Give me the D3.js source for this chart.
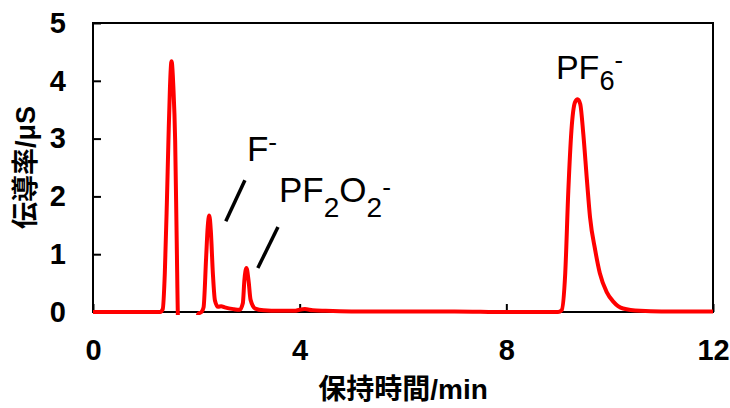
<!DOCTYPE html>
<html>
<head>
<meta charset="utf-8">
<script src="https://cdn.jsdelivr.net/npm/d3@7"></script>
<style>
  body { margin: 0; background: #fff; }
  text { font-family: "Liberation Sans", Arial, "Noto Sans CJK JP", sans-serif; }
</style>
</head>
<body>
<svg id="chart" width="730" height="408"></svg>
<script>
// retention time (min) and conductivity (uS)
const times = [
  0, 1.30, 1.35, 1.39, 1.43, 1.46, 1.49, 1.52, 1.555, 1.59, 1.62, 1.65, 1.70,
  1.95, 2.00, 2.04, 2.10, 2.14, 2.19, 2.22, 2.25, 2.28, 2.32, 2.36, 2.42, 2.48,
  2.55, 2.72, 2.84, 2.90, 2.93, 2.97, 3.01, 3.05, 3.14, 3.30, 3.60, 3.90, 4.00,
  4.10, 4.25, 4.50, 5.0, 6.0, 7.0, 8.0, 9.0, 9.07, 9.14, 9.20, 9.26, 9.33, 9.38,
  9.43, 9.49, 9.56, 9.62, 9.72, 9.81, 9.94, 10.07, 10.26, 10.59, 11.0, 12.0
]
const signal = [
  0, 0, 0.05, 0.67, 1.9, 2.97, 3.9, 4.34, 3.9, 2.97, 1.24, -0.3, -0.6,
  -0.6, -0.2, -0.03, 0.0, 0.08, 0.95, 1.47, 1.67, 1.41, 0.67, 0.2, 0.09, 0.1,
  0.08, 0.05, 0.04, 0.15, 0.55, 0.76, 0.55, 0.21, 0.06, 0.03, 0.02, 0.02, 0.04,
  0.05, 0.03, 0.02, 0.01, 0.01, 0.01, 0.0, 0.0, 0.03, 0.67, 2.10, 3.14, 3.63, 3.68,
  3.60, 3.08, 2.28, 1.64, 1.07, 0.67, 0.35, 0.18, 0.06, 0.02, 0.01, 0.01
]

const xTicks = [0, 4, 8, 12]
const yTicks = [0, 1, 2, 3, 4, 5]
const xTitle = "保持時間/min"
const yTitle = "伝導率/μS"

// peak labels: [text, kind] parts at (t, v); leader line from (t1,v1) to (t2,v2)
const labels = [
  { parts: [["F", ""], ["-", "sup"]], t: 2.98, v: 2.61, size: 35, sub: 15, sup: -10 },
  { parts: [["PF", ""], ["2", "sub"], ["O", ""], ["2", "sub"], ["-", "sup"]], t: 3.60, v: 1.90, size: 35, sub: 15, sup: -6 },
  { parts: [["PF", ""], ["6", "sub"], ["-", "sup"]], t: 8.96, v: 4.03, size: 34, sub: 11, sup: -10 }
]
const leaders = [
  { t1: 2.94, v1: 2.28, t2: 2.57, v2: 1.57 },
  { t1: 3.58, v1: 1.47, t2: 3.19, v2: 0.76 }
]

const svg = d3.select("#chart")
const plotLeft = 93, plotRight = 713, plotTop = 23, plotBottom = 312

const x = d3.scaleLinear().domain([0, 12]).range([plotLeft, plotRight])
const y = d3.scaleLinear().domain([0, 5]).range([plotBottom, plotTop])

svg.append("defs").append("clipPath").attr("id", "clip")
  .append("rect")
    .attr("x", plotLeft - 3).attr("y", plotTop)
    .attr("width", plotRight - plotLeft + 6).attr("height", plotBottom - plotTop + 3)

// frame
svg.append("rect")
    .attr("x", plotLeft).attr("y", plotTop)
    .attr("width", plotRight - plotLeft).attr("height", plotBottom - plotTop)
    .attr("fill", "none")
    .attr("stroke", "#000")
    .attr("stroke-width", 2)

const xAxis = svg.append("g")
    .attr("transform", `translate(0,${plotBottom})`)
    .call(d3.axisBottom(x).tickValues(xTicks).tickFormat(d3.format("d"))
      .tickSize(-8).tickPadding(27))
const yAxis = svg.append("g")
    .attr("transform", `translate(${plotLeft},0)`)
    .call(d3.axisLeft(y).tickValues(yTicks).tickFormat(d3.format("d"))
      .tickSize(-8).tickPadding(27))

;[xAxis, yAxis].forEach((g) => {
  g.select(".domain").remove()
  g.selectAll(".tick line").attr("stroke", "#000").attr("stroke-width", 2)
  g.selectAll(".tick text")
      .attr("fill", "#000")
      .style("font-size", "29px")
      .style("font-weight", "bold")
})

const line = d3.line()
    .x(function(d, i) { return x(times[i]) })
    .y(function(d) { return y(d) })
    .curve(d3.curveMonotoneX)

svg.append("path")
    .datum(signal)
    .attr("clip-path", "url(#clip)")
    .attr("fill", "none")
    .attr("stroke", "#ff0000")
    .attr("stroke-width", 4)
    .attr("stroke-linejoin", "round")
    .attr("d", line)

// leader lines
svg.selectAll(".leader")
  .data(leaders)
  .enter().append("line")
    .attr("class", "leader")
    .attr("x1", function(d) { return x(d.t1) })
    .attr("y1", function(d) { return y(d.v1) })
    .attr("x2", function(d) { return x(d.t2) })
    .attr("y2", function(d) { return y(d.v2) })
    .attr("stroke", "#000")
    .attr("stroke-width", 3.5)

// peak labels
labels.forEach((lab) => {
  const t = svg.append("text")
      .attr("x", x(lab.t))
      .attr("y", y(lab.v))
      .attr("fill", "#000")
      .style("font-size", lab.size + "px")
  let shift = 0
  lab.parts.forEach(([str, kind]) => {
    let want = 0, fs = lab.size
    if (kind == "sub") { want = lab.sub; fs = lab.size * 0.8 }
    if (kind == "sup") { want = lab.sup; fs = lab.size * 0.75 }
    t.append("tspan")
        .attr("dy", want - shift)
        .style("font-size", fs + "px")
        .text(str)
    shift = want
  })
})

// axis titles
svg.append("text")
    .attr("x", (plotLeft + plotRight) / 2)
    .attr("y", 399)
    .attr("text-anchor", "middle")
    .style("font-size", "28px")
    .style("font-weight", "bold")
    .text(xTitle)

svg.append("text")
    .attr("transform", `translate(35,${(plotTop + plotBottom) / 2}) rotate(-90)`)
    .attr("text-anchor", "middle")
    .style("font-size", "27px")
    .style("font-weight", "bold")
    .text(yTitle)
</script>
</body>
</html>
